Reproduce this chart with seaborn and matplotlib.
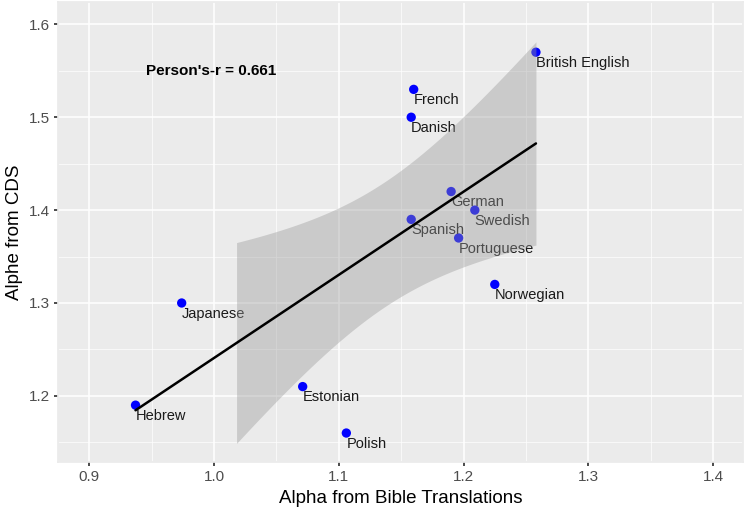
import numpy as np
import pandas as pd
import matplotlib
matplotlib.use("Agg")
import matplotlib.pyplot as plt
import seaborn as sns
from matplotlib.ticker import MultipleLocator

languages = ["British English", "French", "Danish", "German", "Swedish", "Spanish",
             "Portuguese", "Norwegian", "Japanese", "Hebrew", "Estonian", "Polish"]
alpha_bible = [1.258, 1.160, 1.158, 1.190, 1.209, 1.158,
               1.196, 1.225, 0.974, 0.937, 1.071, 1.106]
alpha_cds = [1.57, 1.53, 1.50, 1.42, 1.40, 1.39,
             1.37, 1.32, 1.30, 1.19, 1.21, 1.16]
pearson_label = "Person's-r = 0.661"
band_start = 1.018  # the ribbon in the original only begins here

df = pd.DataFrame({"lang": languages, "x": alpha_bible, "y": alpha_cds})

sns.set_theme(style="darkgrid", rc={
    "axes.facecolor": "#EBEBEB",
    "grid.color": "white",
    "axes.edgecolor": "#EBEBEB",
})
plt.rcParams["font.family"] = ["Liberation Sans", "DejaVu Sans"]

fig, ax = plt.subplots(figsize=(7.46, 5.16), dpi=100)
fig.subplots_adjust(left=0.078, right=0.996, top=0.996, bottom=0.105)

# points + labels
sns.scatterplot(data=df, x="x", y="y", color="#0000FF", s=45, edgecolor="none",
                ax=ax, zorder=3)
for _, r in df.iterrows():
    ax.text(r["x"], r["y"] - 0.004, r["lang"], ha="left", va="top",
            fontsize=10.5, color="#1a1a1a", zorder=3)

# regression line (on top of the band)
sns.regplot(data=df, x="x", y="y", scatter=False, ci=None, ax=ax,
            line_kws={"color": "black", "lw": 1.8, "zorder": 6})

# confidence band (lm, 95%)
x = np.array(alpha_bible)
y = np.array(alpha_cds)
n = len(x)
b1, b0 = np.polyfit(x, y, 1)
resid = y - (b0 + b1 * x)
s = np.sqrt(np.sum(resid ** 2) / (n - 2))
t_crit = 2.228
xs = np.linspace(band_start, x.max(), 100)
se = s * np.sqrt(1 / n + (xs - x.mean()) ** 2 / np.sum((x - x.mean()) ** 2))
yhat = b0 + b1 * xs
ax.fill_between(xs, yhat - t_crit * se, yhat + t_crit * se,
                color="#999999", alpha=0.4, lw=0, zorder=5)

ax.text(0.998, 1.55, pearson_label, ha="center", va="center",
        fontsize=11, fontweight="bold", color="black")

ax.set_xlim(0.875, 1.424)
ax.set_ylim(1.129, 1.624)
ax.xaxis.set_major_locator(MultipleLocator(0.1))
ax.yaxis.set_major_locator(MultipleLocator(0.1))
ax.xaxis.set_minor_locator(MultipleLocator(0.05))
ax.yaxis.set_minor_locator(MultipleLocator(0.05))
ax.grid(which="major", color="white", lw=1.1)
ax.grid(which="minor", color="white", lw=0.5)
ax.tick_params(which="major", length=3, color="#333333", labelsize=11,
               labelcolor="#4D4D4D", left=True, bottom=True, pad=3)
ax.tick_params(which="minor", length=0)
ax.set_xlabel("Alpha from Bible Translations", fontsize=13.5, color="black")
ax.set_ylabel("Alphe from CDS", fontsize=13.5, color="black")

fig.savefig("out.png", dpi=100)
